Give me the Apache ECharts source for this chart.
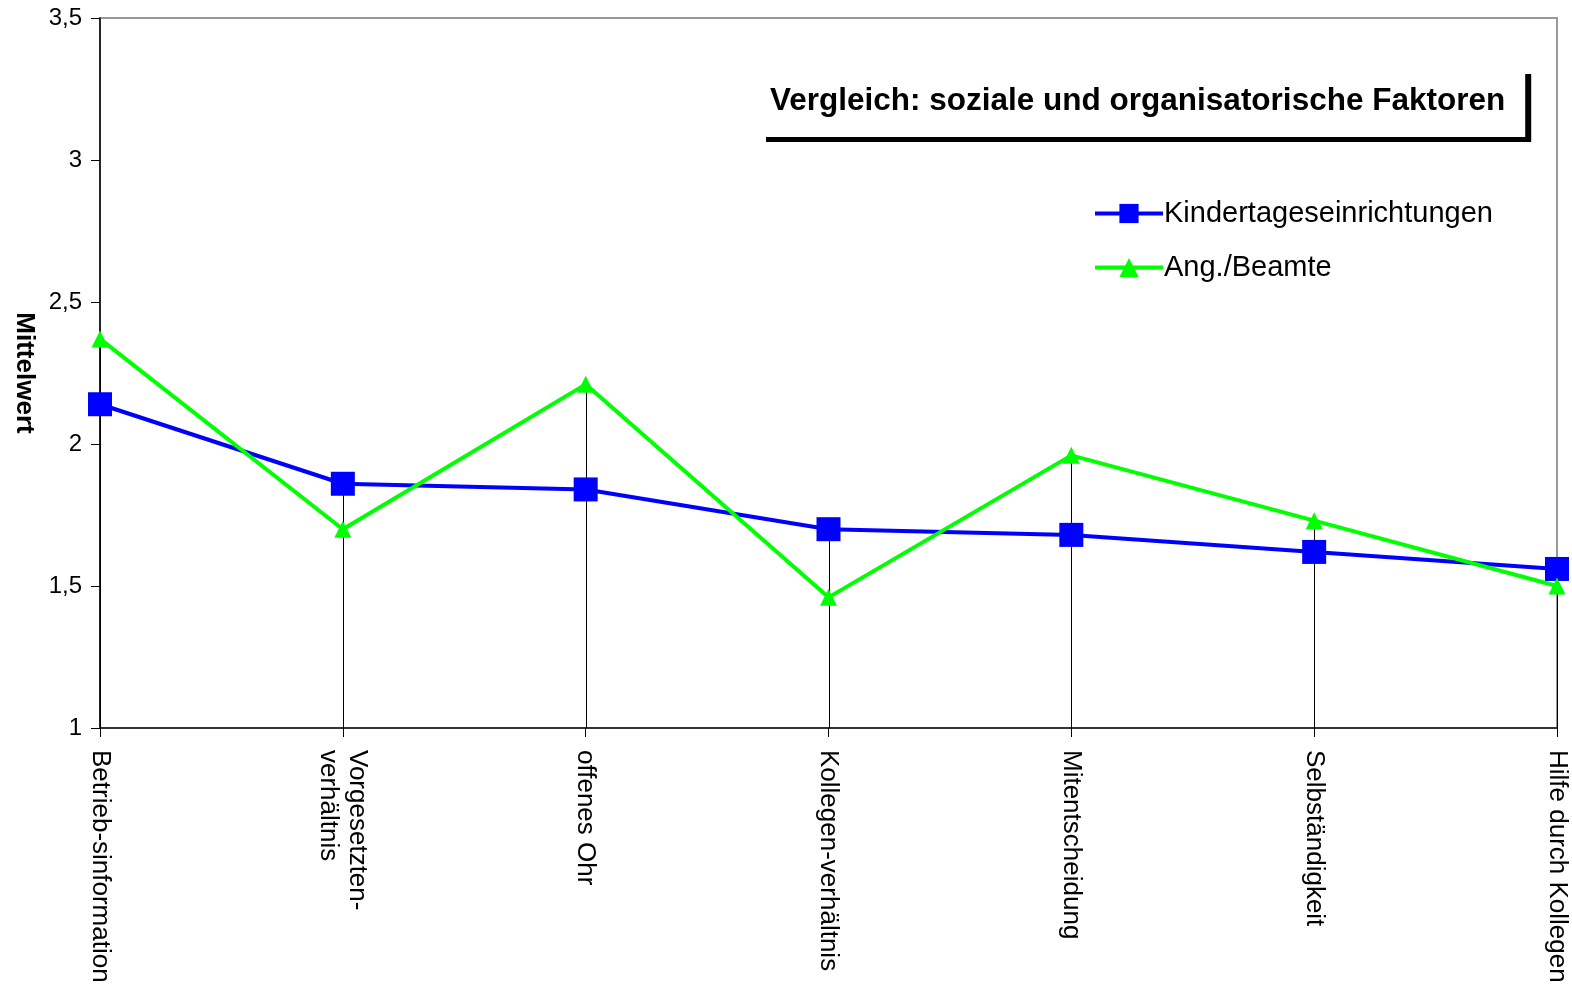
<!DOCTYPE html>
<html>
<head>
<meta charset="utf-8">
<title>Vergleich: soziale und organisatorische Faktoren</title>
<script src="https://cdn.jsdelivr.net/npm/echarts@6/dist/echarts.min.js"></script>
<style>
  html, body { margin: 0; padding: 0; background: #fff; }
  #chart { width: 1572px; height: 992px; }
</style>
</head>
<body>
<div id="chart"></div>
<script>
  // Kategorien (x-Achse)
  var categories = [
    'Betrieb-sinformation',
    'Vorgesetzten-\nverhältnis',
    'offenes Ohr',
    'Kollegen-verhältnis',
    'Mitentscheidung',
    'Selbständigkeit',
    'Hilfe durch Kollegen'
  ];

  // Mittelwerte je Gruppe
  var kita = [2.14, 1.86, 1.84, 1.70, 1.68, 1.62, 1.56];
  var beamte = [2.37, 1.70, 2.21, 1.46, 1.96, 1.73, 1.50];

  var yTicks = [1, 1.5, 2, 2.5, 3, 3.5];

  var font = 'Liberation Sans, Arial, sans-serif';

  // Lotlinien bis zum jeweils höheren Punkt
  var dropData = categories.map(function (c, i) {
    return [i, Math.max(kita[i], beamte[i])];
  });

  var myChart = echarts.init(document.getElementById('chart'));

  var option = {
    backgroundColor: '#fff',
    animation: false,
    textStyle: { fontFamily: font },
    title: {
      text: 'Vergleich: soziale und organisatorische Faktoren',
      left: 760,
      top: 69,
      padding: [16, 20, 20, 10],
      backgroundColor: '#fff',
      shadowColor: '#000',
      shadowBlur: 0,
      shadowOffsetX: 6,
      shadowOffsetY: 5,
      textStyle: { fontFamily: font, fontSize: 31.5, fontWeight: 'bold', color: '#000' }
    },
    legend: {
      orient: 'vertical',
      left: 1088,
      top: 194,
      itemWidth: 68,
      itemHeight: 24,
      itemGap: 25,
      data: ['Kindertageseinrichtungen', 'Ang./Beamte'],
      lineStyle: { width: 4 },
      textStyle: { fontFamily: font, fontSize: 29, color: '#000', padding: [0, 0, 0, -4] }
    },
    grid: {
      left: 100,
      right: 15,
      top: 18,
      bottom: 264,
      outerBoundsMode: 'none',
      show: true,
      borderColor: '#999',
      borderWidth: 2,
      backgroundColor: 'transparent'
    },
    xAxis: {
      type: 'category',
      data: categories,
      boundaryGap: false,
      axisLine: { lineStyle: { color: '#333', width: 2 } },
      axisTick: { show: true, length: 9, lineStyle: { color: '#000' } },
      axisLabel: {
        rotate: -90,
        margin: 22,
        interval: 0,
        fontSize: 26,
        color: '#000',
        lineHeight: 29,
        fontFamily: font
      },
      splitLine: { show: false }
    },
    yAxis: {
      type: 'value',
      min: 1,
      max: 3.5,
      interval: 0.5,
      name: 'Mittelwert',
      nameLocation: 'middle',
      nameRotate: -90,
      nameGap: 63,
      nameTextStyle: { fontFamily: font, fontSize: 26, fontWeight: 'bold', color: '#000' },
      axisLine: { show: true, lineStyle: { color: '#000', width: 1.5 } },
      axisTick: { show: true, length: 9, lineStyle: { color: '#000' } },
      axisLabel: {
        fontSize: 24,
        color: '#000',
        margin: 18,
        fontFamily: font,
        formatter: function (v) {
          return yTicks.indexOf(v) >= 0 ? String(v).replace('.', ',') : '';
        }
      },
      splitLine: { show: false }
    },
    series: [
      {
        type: 'custom',
        silent: true,
        z: 1,
        data: dropData,
        renderItem: function (params, api) {
          var top = api.coord([api.value(0), api.value(1)]);
          var bottom = api.coord([api.value(0), 1]);
          var x = Math.round(top[0]) + 0.5;
          return {
            type: 'line',
            shape: { x1: x, y1: top[1], x2: x, y2: bottom[1] },
            style: { stroke: '#000', lineWidth: 1 }
          };
        }
      },
      {
        name: 'Kindertageseinrichtungen',
        type: 'line',
        z: 3,
        data: kita,
        symbol: 'rect',
        symbolSize: 24,
        clip: false,
        lineStyle: { color: '#0000ff', width: 4 },
        itemStyle: { color: '#0000ff' }
      },
      {
        name: 'Ang./Beamte',
        type: 'line',
        z: 4,
        data: beamte,
        symbol: 'triangle',
        symbolSize: 17,
        clip: false,
        lineStyle: { color: '#00ff00', width: 4 },
        itemStyle: { color: '#00ff00' }
      }
    ]
  };

  myChart.setOption(option);
  window.addEventListener('resize', () => myChart.resize());
</script>
</body>
</html>
